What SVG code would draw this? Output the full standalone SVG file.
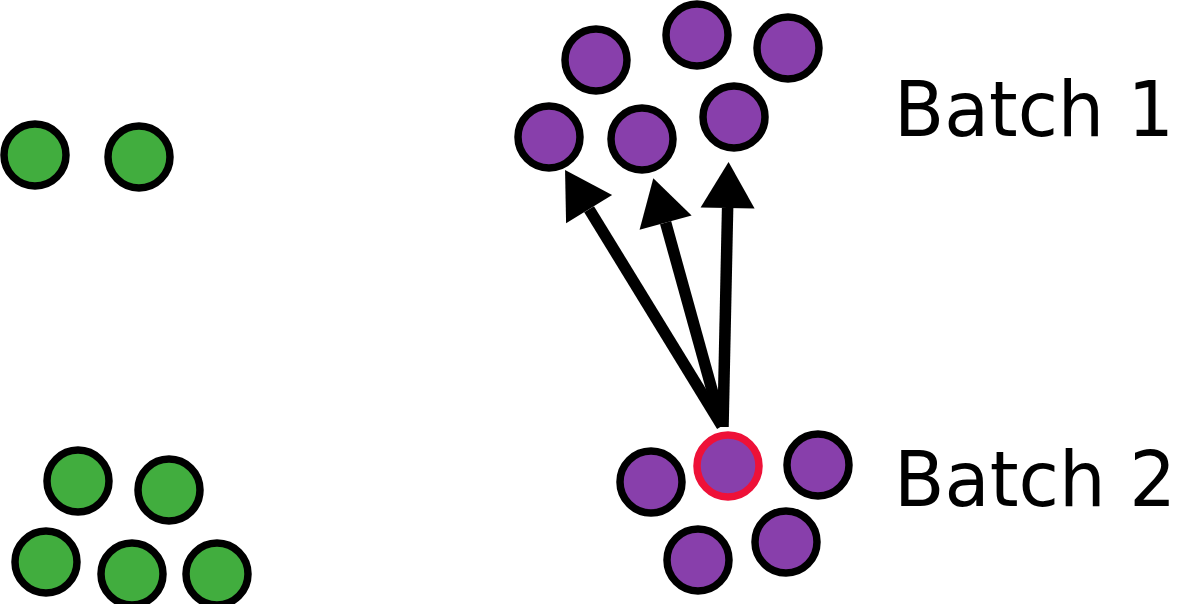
<svg xmlns="http://www.w3.org/2000/svg" width="1178" height="604" viewBox="0 0 1178 604">
<style>
.g{fill:#41ad3e;stroke:#000;stroke-width:7.5}
.p{fill:#883fab;stroke:#000;stroke-width:7.5}
.sel{stroke:#ee1138}
.lbl{font-family:"DejaVu Sans",Verdana,sans-serif;font-size:76px;fill:#000}
.arr{stroke:#000;stroke-width:11.5;fill:none;marker-end:url(#ah)}
</style>
<defs>
<marker id="ah" markerUnits="userSpaceOnUse" markerWidth="46" markerHeight="54" refX="0" refY="27" orient="auto" overflow="visible">
<path d="M0,0 L46,27 L0,54 z" fill="#000"/>
</marker>
</defs>
<g id="green-top">
<circle id="g1" class="g" cx="35" cy="155" r="31"/>
<circle id="g2" class="g" cx="139" cy="157" r="31"/>
</g>
<g id="green-bottom">
<circle id="g3" class="g" cx="78" cy="481" r="31"/>
<circle id="g4" class="g" cx="169" cy="490" r="31"/>
<circle id="g5" class="g" cx="46" cy="562" r="31"/>
<circle id="g6" class="g" cx="132" cy="574" r="31"/>
<circle id="g7" class="g" cx="217" cy="574" r="31"/>
</g>
<g id="batch1">
<circle id="b1a" class="p" cx="596" cy="60" r="31"/>
<circle id="b1b" class="p" cx="697" cy="35" r="31"/>
<circle id="b1c" class="p" cx="788" cy="48" r="31"/>
<circle id="b1d" class="p" cx="549" cy="137" r="31"/>
<circle id="b1e" class="p" cx="642" cy="139" r="31"/>
<circle id="b1f" class="p" cx="734" cy="117" r="31"/>
</g>
<g id="batch2">
<circle id="b2a" class="p" cx="651" cy="482" r="31"/>
<circle id="b2b" class="p sel" cx="728" cy="466" r="31"/>
<circle id="b2c" class="p" cx="818" cy="465" r="31"/>
<circle id="b2d" class="p" cx="698" cy="560" r="31"/>
<circle id="b2e" class="p" cx="786" cy="542" r="31"/>
</g>
<g id="connectors">
<line class="arr" x1="722" y1="426" x2="589.1" y2="209.2"/>
<line class="arr" x1="722" y1="426" x2="665.6" y2="222.6"/>
<line class="arr" x1="723" y1="427" x2="727.6" y2="208"/>
</g>
<g id="labels">
<text id="label1" class="lbl" x="894" y="136" textLength="280" lengthAdjust="spacingAndGlyphs">Batch 1</text>
<text id="label2" class="lbl" x="894" y="506" textLength="282" lengthAdjust="spacingAndGlyphs">Batch 2</text>
</g>
</svg>
